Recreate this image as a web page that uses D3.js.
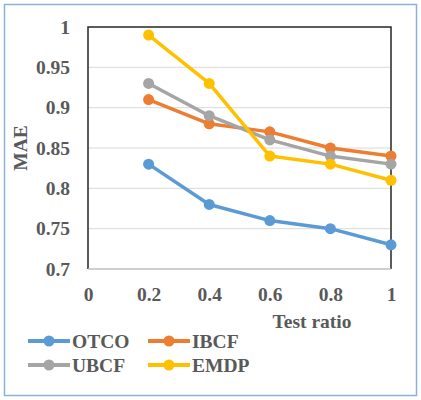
<!DOCTYPE html>
<html>
<head>
<meta charset="utf-8">
<script src="https://cdn.jsdelivr.net/npm/d3@7"></script>
<style>
  body { margin: 0; background: #fff; }
</style>
</head>
<body>
<svg id="chart" width="421" height="400"></svg>
<script>
// 数据
const testRatios = [0.2, 0.4, 0.6, 0.8, 1];
const otco = [0.83, 0.78, 0.76, 0.75, 0.73];
const ibcf = [0.91, 0.88, 0.87, 0.85, 0.84];
const ubcf = [0.93, 0.89, 0.86, 0.84, 0.83];
const emdp = [0.99, 0.93, 0.84, 0.83, 0.81];
const xTicks = [0, 0.2, 0.4, 0.6, 0.8, 1];
const yTicks = [0.7, 0.75, 0.8, 0.85, 0.9, 0.95, 1];

const series = [
  { name: 'OTCO', values: otco, color: '#5B9BD5' },
  { name: 'IBCF', values: ibcf, color: '#ED7D31' },
  { name: 'UBCF', values: ubcf, color: '#A5A5A5' },
  { name: 'EMDP', values: emdp, color: '#FFC000' }
];

const FONT = "'Liberation Serif', 'Times New Roman', serif";
const TEXT_COLOR = '#595959';

const svg = d3.select('#chart');

// 外框
svg.append('rect')
  .attr('x', 4.5).attr('y', 4.5)
  .attr('width', 412).attr('height', 391)
  .attr('fill', '#fff')
  .attr('stroke', '#8EB0D8')
  .attr('stroke-width', 1.5);

const plot = { left: 88, top: 27, right: 391, bottom: 269 };

const x = d3.scaleLinear().domain([0, 1]).range([plot.left, plot.right]);
const y = d3.scaleLinear().domain([0.7, 1]).range([plot.bottom, plot.top]);

function styleText(sel) {
  sel.style('font-family', FONT)
    .style('font-weight', 'bold')
    .style('font-size', '19.5px')
    .style('fill', TEXT_COLOR);
}

// 网格线
svg.append('g')
  .selectAll('line')
  .data(yTicks.slice(1, -1))
  .join('line')
  .attr('x1', plot.left).attr('x2', plot.right)
  .attr('y1', d => y(d)).attr('y2', d => y(d))
  .attr('stroke', '#D9D9D9')
  .attr('stroke-width', 1);

// 边框：上、左、右为黑色，底部为灰色轴线
svg.append('path')
  .attr('d', `M${plot.left},${plot.bottom} V${plot.top} H${plot.right} V${plot.bottom}`)
  .attr('fill', 'none')
  .attr('stroke', '#262626')
  .attr('stroke-width', 1.5);
svg.append('line')
  .attr('x1', plot.left).attr('x2', plot.right)
  .attr('y1', plot.bottom).attr('y2', plot.bottom)
  .attr('stroke', '#BFBFBF')
  .attr('stroke-width', 1.5);

// 坐标轴标签
const yAxis = d3.axisLeft(y).tickValues(yTicks).tickSize(0).tickPadding(18)
  .tickFormat(d => d3.format('')(+d.toFixed(2)));
svg.append('g')
  .attr('transform', `translate(${plot.left},0)`)
  .call(yAxis)
  .call(g => g.select('.domain').remove())
  .selectAll('text')
  .call(styleText);

const xAxis = d3.axisBottom(x).tickValues(xTicks).tickSize(0).tickPadding(18)
  .tickFormat(d => d3.format('')(+d.toFixed(1)));
svg.append('g')
  .attr('transform', `translate(0,${plot.bottom})`)
  .call(xAxis)
  .call(g => g.select('.domain').remove())
  .selectAll('text')
  .call(styleText);

// 轴标题
svg.append('text')
  .attr('x', 312).attr('y', 328)
  .attr('text-anchor', 'middle')
  .call(styleText)
  .text('Test ratio');

svg.append('text')
  .attr('transform', 'translate(27,148) rotate(-90)')
  .attr('text-anchor', 'middle')
  .call(styleText)
  .text('MAE');

// 折线
const line = d3.line()
  .x((d, i) => x(testRatios[i]))
  .y(d => y(d));

const seriesG = svg.append('g')
  .selectAll('g')
  .data(series)
  .join('g');

seriesG.append('path')
  .attr('d', d => line(d.values))
  .attr('fill', 'none')
  .attr('stroke', d => d.color)
  .attr('stroke-width', 3.5)
  .attr('stroke-linejoin', 'round');

seriesG.selectAll('circle')
  .data(d => d.values.map((v, i) => ({ v, i, color: d.color })))
  .join('circle')
  .attr('cx', d => x(testRatios[d.i]))
  .attr('cy', d => y(d.v))
  .attr('r', 5.5)
  .attr('fill', d => d.color);

// 图例
const legendPos = [
  { x: 28, y: 341 }, { x: 148, y: 341 },
  { x: 28, y: 365 }, { x: 148, y: 365 }
];
const legend = svg.append('g')
  .selectAll('g')
  .data(series)
  .join('g')
  .attr('transform', (d, i) => `translate(${legendPos[i].x},${legendPos[i].y})`);

legend.append('line')
  .attr('x1', 0).attr('x2', 42)
  .attr('y1', 0).attr('y2', 0)
  .attr('stroke', d => d.color)
  .attr('stroke-width', 4);
legend.append('circle')
  .attr('cx', 21).attr('cy', 0).attr('r', 5.5)
  .attr('fill', d => d.color);
legend.append('text')
  .attr('x', 44).attr('y', 7)
  .call(styleText)
  .text(d => d.name);
</script>
</body>
</html>
